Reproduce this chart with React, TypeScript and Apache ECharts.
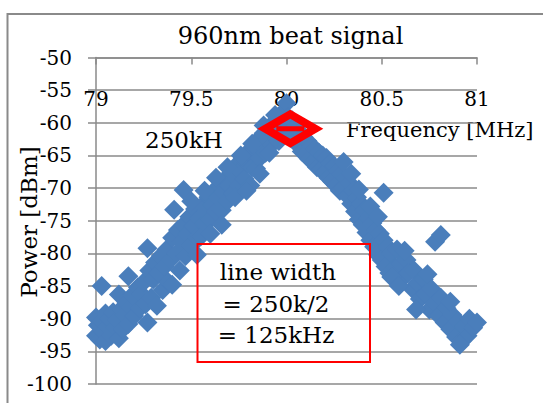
import React, { useEffect, useRef } from "react";
import * as echarts from "echarts";

const chartTitle = "960nm beat signal";
const xAxisName = "Frequency [MHz]";
const yAxisName = "Power [dBm]";
const peakLabel = "250kH";
const noteLines = ["line width", "= 250k/2", "= 125kHz"];

const xMin = 79, xMax = 81, xStep = 0.5;
const yMin = -100, yMax = -50, yStep = 5;

// left (rising) branch [MHz, dBm]
const leftBranch: [number, number][] = [
  [79.00, -89.8], [79.00, -92.6], [79.01, -91.0], [79.02, -93.2], [79.03, -85.0], [79.03, -90.4],
  [79.04, -92.0], [79.05, -89.2], [79.05, -93.4], [79.06, -91.2], [79.07, -90.0], [79.08, -92.6],
  [79.09, -89.0], [79.10, -91.4], [79.11, -90.2], [79.12, -86.3], [79.12, -93.0], [79.13, -88.6],
  [79.14, -91.6], [79.15, -89.4], [79.16, -87.6], [79.17, -83.5], [79.17, -90.8], [79.18, -88.2],
  [79.19, -86.4], [79.20, -89.6], [79.21, -87.0], [79.22, -85.2], [79.23, -88.4], [79.24, -86.2],
  [79.25, -84.4], [79.26, -87.8], [79.27, -90.6], [79.27, -79.2], [79.28, -82.6], [79.29, -86.8],
  [79.30, -84.0], [79.31, -81.4], [79.32, -88.0], [79.33, -83.0], [79.34, -80.4], [79.35, -85.6],
  [79.36, -82.0], [79.37, -79.4], [79.38, -84.4], [79.39, -81.0], [79.40, -77.6], [79.40, -84.8],
  [79.41, -73.3], [79.42, -80.0], [79.43, -76.4], [79.44, -82.6], [79.45, -78.2], [79.46, -70.3],
  [79.46, -75.6], [79.47, -80.4], [79.48, -77.0], [79.49, -74.4], [79.50, -78.8], [79.51, -75.8],
  [79.52, -73.2], [79.53, -77.6], [79.54, -74.6], [79.55, -77.4], [79.56, -72.6], [79.57, -75.4],
  [79.58, -73.6], [79.59, -71.4], [79.60, -74.8], [79.61, -72.6], [79.62, -70.4], [79.63, -73.6],
  [79.64, -71.4], [79.65, -69.6], [79.66, -73.4], [79.67, -70.6], [79.68, -68.6], [79.69, -72.0],
  [79.70, -69.6], [79.71, -67.6], [79.72, -70.8], [79.73, -68.4], [79.74, -66.4], [79.75, -69.6],
  [79.76, -67.4], [79.77, -65.4], [79.78, -68.6], [79.79, -66.2], [79.80, -64.4], [79.81, -69.6],
  [79.82, -66.8], [79.83, -64.0], [79.84, -67.0], [79.85, -62.6], [79.86, -65.4], [79.87, -63.4],
  [79.88, -61.6], [79.89, -64.6], [79.90, -62.6], [79.91, -60.6], [79.92, -63.4], [79.93, -61.6],
  [79.94, -60.0], [79.95, -62.6], [79.96, -59.6], [79.97, -61.2], [79.98, -58.4], [79.99, -60.4],
  [80.00, -57.0],
  [79.50, -72.0], [79.53, -80.2], [79.57, -70.4], [79.60, -77.0], [79.63, -68.4], [79.66, -75.6],
  [79.69, -66.8], [79.73, -71.4], [79.76, -65.0], [79.79, -70.4], [79.82, -63.2], [79.86, -67.8],
  [79.88, -60.4], [79.91, -64.6], [79.94, -58.8], [79.96, -62.8],
];

// right (falling) branch [MHz, dBm]
const rightBranch: [number, number][] = [
  [80.01, -59.2], [80.02, -61.6], [80.03, -59.6], [80.04, -62.4], [80.05, -60.6], [80.06, -63.4],
  [80.07, -61.4], [80.08, -64.4], [80.09, -62.2], [80.10, -64.8], [80.11, -62.8], [80.12, -65.6],
  [80.13, -63.6], [80.14, -66.0], [80.15, -64.0], [80.16, -66.8], [80.17, -64.6], [80.18, -67.2],
  [80.19, -65.0], [80.20, -67.6], [80.21, -65.4], [80.22, -68.4], [80.23, -66.2], [80.24, -69.0],
  [80.25, -66.6], [80.26, -69.6], [80.27, -67.4], [80.28, -70.4], [80.29, -67.8], [80.30, -70.0],
  [80.31, -68.4], [80.32, -71.2], [80.33, -69.2], [80.34, -72.4], [80.35, -70.4], [80.36, -73.6],
  [80.37, -71.4], [80.38, -74.8], [80.39, -72.4], [80.40, -75.6], [80.41, -73.4], [80.42, -76.8],
  [80.43, -74.6], [80.44, -78.0], [80.45, -75.4], [80.46, -79.0], [80.47, -76.4], [80.48, -80.2],
  [80.49, -77.0], [80.50, -81.0], [80.51, -70.7], [80.51, -78.0], [80.52, -82.0], [80.53, -79.0],
  [80.54, -83.0], [80.55, -80.0], [80.57, -82.2], [80.58, -79.4], [80.60, -81.6], [80.61, -83.8],
  [80.63, -81.0], [80.64, -83.0], [80.66, -85.4], [80.67, -82.6], [80.69, -84.6], [80.70, -87.0],
  [80.72, -84.0], [80.73, -86.2], [80.75, -88.6], [80.76, -85.4], [80.78, -87.6], [80.78, -78.2],
  [80.81, -77.2], [80.80, -89.6], [80.81, -86.8], [80.83, -90.6], [80.84, -88.4], [80.86, -91.6],
  [80.87, -89.4], [80.89, -92.8], [80.90, -90.4], [80.92, -93.4], [80.93, -91.2], [80.95, -92.6],
  [80.96, -90.0], [80.98, -91.4], [81.00, -90.6],
  [80.30, -66.0], [80.34, -67.8], [80.38, -70.2], [80.44, -72.8], [80.48, -74.4], [80.55, -83.6],
  [80.59, -85.0], [80.62, -79.6], [80.68, -88.6], [80.74, -83.2], [80.86, -87.4], [80.91, -94.0],
];

// highlighted peak marker
const peakMarker: [number, number][] = [[80.02, -60.9]];

const FONT = "'DejaVu Serif', serif";
const GRAY = "#8a8a8a";
const BLUE = "#4a7ebb";

const peakSymbol =
  "path://M0,-19L33,0L0,19L-33,0Z M0,-10L-17,0L0,10L17,0Z M-14,-2.5L14,-2.5L14,2.5L-14,2.5Z";

export default function App() {
  const ref = useRef<HTMLDivElement>(null);
  useEffect(() => {
    if (!ref.current) return;
    const chart = echarts.init(ref.current, null, { renderer: "svg" });
    chart.setOption({
      animation: false,
      backgroundColor: "#ffffff",
      grid: { left: 96, right: 66, top: 57.5, bottom: 19 },
      xAxis: {
        type: "value",
        position: "top",
        min: xMin,
        max: xMax,
        interval: xStep,
        axisLine: { show: true, lineStyle: { color: GRAY, width: 1.5 } },
        axisTick: { show: true, inside: true, length: 7, lineStyle: { color: GRAY, width: 1.5 } },
        axisLabel: {
          inside: true,
          margin: 31,
          color: "#000",
          fontFamily: FONT,
          fontSize: 20,
        },
        splitLine: { show: false },
      },
      yAxis: {
        type: "value",
        min: yMin,
        max: yMax,
        interval: yStep,
        axisLine: { show: true, lineStyle: { color: GRAY, width: 1.5 } },
        axisTick: { show: true, inside: false, length: 8, lineStyle: { color: GRAY, width: 1.5 } },
        axisLabel: {
          margin: 24,
          color: "#000",
          fontFamily: FONT,
          fontSize: 20,
        },
        splitLine: { show: true, lineStyle: { color: GRAY, width: 1.5 } },
      },
      series: [
        {
          type: "scatter",
          name: "left",
          data: leftBranch,
          symbol: "diamond",
          symbolSize: 20,
          itemStyle: { color: BLUE, opacity: 1 },
          z: 3,
        },
        {
          type: "scatter",
          name: "right",
          data: rightBranch,
          symbol: "diamond",
          symbolSize: 20,
          itemStyle: { color: BLUE, opacity: 1 },
          z: 3,
        },
        {
          type: "scatter",
          name: "peak",
          data: peakMarker,
          symbol: peakSymbol,
          symbolSize: [66, 38],
          itemStyle: { color: "#ff0000", opacity: 1 },
          z: 5,
        },
      ],
      graphic: [
        {
          type: "rect",
          shape: { x: 7.5, y: 14, width: 700, height: 600 },
          style: { fill: "none", stroke: GRAY, lineWidth: 2 },
          silent: true,
          z: -1,
        },
        {
          type: "text",
          x: 290.5,
          y: 36,
          style: { text: chartTitle, font: `24px ${FONT}`, fill: "#000", align: "center", verticalAlign: "middle" },
        },
        {
          type: "text",
          x: 28.5,
          y: 222,
          rotation: Math.PI / 2,
          style: { text: yAxisName, font: `23px ${FONT}`, fill: "#000", align: "center", verticalAlign: "middle" },
        },
        {
          type: "text",
          x: 346,
          y: 130,
          style: { text: xAxisName, font: `21px ${FONT}`, fill: "#000", align: "left", verticalAlign: "middle" },
        },
        {
          type: "text",
          x: 145,
          y: 140,
          style: { text: peakLabel, font: `23px ${FONT}`, fill: "#000", align: "left", verticalAlign: "middle" },
        },
        {
          type: "rect",
          shape: { x: 197.5, y: 244, width: 172.5, height: 118 },
          style: { fill: "none", stroke: "#ff0000", lineWidth: 2 },
          z: 10,
        },
        {
          type: "text",
          x: 278,
          y: 272,
          z: 11,
          style: { text: noteLines[0], font: `23px ${FONT}`, fill: "#000", align: "center", verticalAlign: "middle" },
        },
        {
          type: "text",
          x: 276,
          y: 303.5,
          z: 11,
          style: { text: noteLines[1], font: `23px ${FONT}`, fill: "#000", align: "center", verticalAlign: "middle" },
        },
        {
          type: "text",
          x: 276,
          y: 335,
          z: 11,
          style: { text: noteLines[2], font: `23px ${FONT}`, fill: "#000", align: "center", verticalAlign: "middle" },
        },
      ],
    });
    return () => chart.dispose();
  }, []);
  return (
    <div
      ref={ref}
      style={{ position: "absolute", left: 0, top: 0, width: 543, height: 403 }}
    />
  );
}
